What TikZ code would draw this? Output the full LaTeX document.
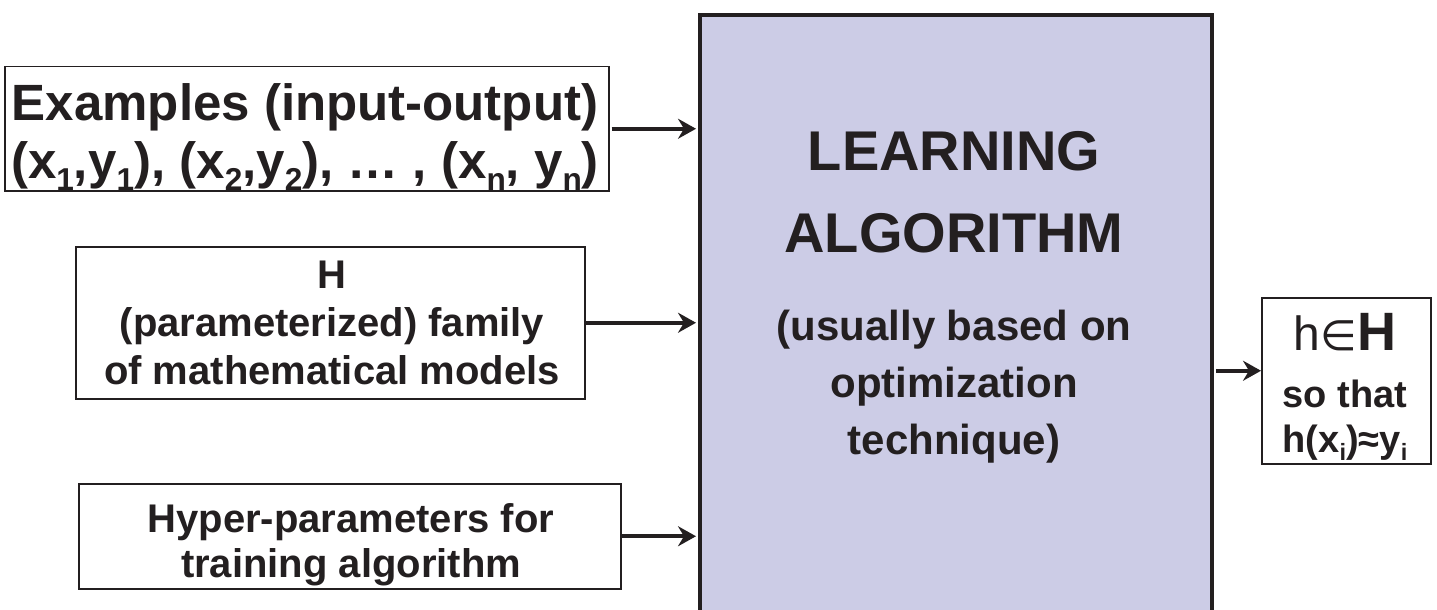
\documentclass[tikz,border=0pt]{standalone}
\usepackage{fontspec}
\setmainfont{Liberation Sans}
\newfontfamily\djv{DejaVu Sans}
\usetikzlibrary{arrows.meta}
\definecolor{ink}{RGB}{35,31,32}
\definecolor{lav}{RGB}{204,204,230}
\newcommand{\sbs}[1]{\raisebox{-0.22em}{\scalebox{0.62}{#1}}}
\begin{document}
\begin{tikzpicture}[x=1pt,y=-1pt,
  inbox/.style={draw=ink, line width=1.5pt, fill=white, inner sep=0pt, anchor=north west},
  txt/.style={text=ink, font=\bfseries, align=center, inner sep=0pt},
  arr/.style={draw=ink, line width=4pt, -{Stealth[length=18pt,width=20pt,inset=6pt]}}]
\useasboundingbox (0,0) rectangle (1437,610);
% big box
\node[draw=ink, fill=lav, line width=4pt, anchor=north west, minimum width=512pt, minimum height=640pt, inner sep=0pt] (alg) at (698,13) {};
% input boxes
\node[inbox, minimum width=604pt, minimum height=124pt] (ex) at (4,66) {};
\node[inbox, minimum width=509pt, minimum height=152pt] (hh) at (75,246) {};
\node[inbox, minimum width=542pt, minimum height=105pt] (hp) at (78,483) {};
\node[inbox, minimum width=169pt, minimum height=166pt] (out) at (1261,297) {};
% texts
\node[txt, font=\bfseries\fontsize{51}{58}\selectfont] (exT) at (305,137)
  {Examples (input-output)\\(x\sbs{1},y\sbs{1}), (x\sbs{2},y\sbs{2}), … , (x\sbs{n}, y\sbs{n})};
\node[txt, font=\bfseries\fontsize{40}{48}\selectfont] (hhT) at (332,323)
  {H\\(parameterized) family\\of mathematical models};
\node[txt, font=\bfseries\fontsize{40}{45}\selectfont] (hpT) at (351,545)
  {Hyper-parameters for\\training algorithm};
\node[txt, font=\bfseries\fontsize{56}{82}\selectfont] (algT) at (954,192)
  {LEARNING\\ALGORITHM};
\node[txt, font=\bfseries\fontsize{42}{57}\selectfont] (algS) at (954,387)
  {(usually based on\\optimization\\technique)};
\node[txt, font=\fontsize{48}{48}\selectfont] (oT) at (1345,332)
  {h{\djv\fontsize{42}{42}\selectfont ∈}{\bfseries\fontsize{54}{54}\selectfont H}};
\node[txt, font=\bfseries\fontsize{38}{45}\selectfont] (oS) at (1345,420)
  {so that\\h(x\sbs{i})≈y\sbs{i}};
% arrows
\coordinate (oa) at ([yshift=10pt]out.west);
\draw[arr, shorten >=2pt] ([xshift=2pt]ex.east) -- (ex.east -| alg.west);
\draw[arr, shorten >=2pt] (hh.east) -- (hh.east -| alg.west);
\draw[arr, shorten >=2pt] (hp.east) -- (hp.east -| alg.west);
\draw[arr, shorten <=2pt] (alg.east |- oa) -- (oa);
\end{tikzpicture}
\end{document}
